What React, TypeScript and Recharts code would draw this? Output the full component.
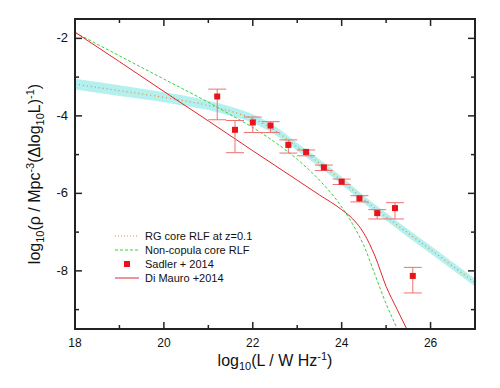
import React from 'react';
import {
  ComposedChart,
  Line,
  Area,
  Scatter,
  ErrorBar,
  XAxis,
  YAxis,
  Legend,
  ReferenceArea,
  CartesianGrid,
} from 'recharts';

const FONT = '"Liberation Sans", Arial, Helvetica, sans-serif';
const FRAME = '#222';
const W = 500;
const H = 388;
const MARGIN = { top: 19, right: 25, left: 0, bottom: 0 };
const Y_AXIS_W = 75;
const X_AXIS_H = 59;

// Sadler + 2014 measurements
const sadlerL = [21.2, 21.6, 22.0, 22.4, 22.8, 23.2, 23.6, 24.0, 24.4, 24.8, 25.2, 25.6];
const sadlerRho = [-3.5, -4.36, -4.17, -4.25, -4.75, -4.93, -5.33, -5.7, -6.13, -6.51, -6.38, -8.13];
const sadlerErrLo = [0.6, 0.59, 0.26, 0.18, 0.21, 0.1, 0.08, 0.07, 0.09, 0.15, 0.28, 0.44];
const sadlerErrHi = [0.19, 0.24, 0.14, 0.1, 0.13, 0.05, 0.06, 0.07, 0.07, 0.09, 0.14, 0.22];

// RG core RLF at z=0.1 (dotted) and its uncertainty band
const rgL = [18, 19, 20, 20.5, 21, 21.5, 22, 22.5, 23, 23.5, 24, 24.5, 25, 25.5, 26, 26.5, 27];
const rgRho = [-3.18, -3.35, -3.52, -3.62, -3.73, -3.88, -4.07, -4.38, -4.8, -5.22, -5.67, -6.16, -6.6, -7.03, -7.45, -7.88, -8.3];
const rgHi = [-3.04, -3.21, -3.39, -3.49, -3.61, -3.76, -3.96, -4.27, -4.7, -5.12, -5.57, -6.06, -6.5, -6.93, -7.35, -7.78, -8.2];
const rgLo = [-3.32, -3.49, -3.65, -3.75, -3.85, -4.0, -4.18, -4.49, -4.9, -5.32, -5.77, -6.26, -6.7, -7.13, -7.55, -7.98, -8.4];

// Non-copula core RLF
const ncL = [18, 19, 20, 21, 21.5, 22, 22.5, 23, 23.5, 24, 24.25, 24.5, 24.75, 25, 25.25, 25.5];
const ncRho = [-1.85, -2.45, -3.05, -3.65, -3.97, -4.3, -4.68, -5.12, -5.66, -6.35, -6.8, -7.35, -8.1, -8.85, -9.5, -10.2];

// Di Mauro +2014
const dmL = [18, 19, 20, 21, 22, 23, 23.5, 24, 24.25, 24.5, 24.75, 25, 25.25, 25.5];
const dmRho = [-1.84, -2.6, -3.37, -4.13, -4.9, -5.66, -6.04, -6.42, -6.66, -7.03, -7.62, -8.4, -9.0, -9.58];

const xDomain = [18, 27];
const yDomain = [-9.5, -1.5];
const xTicks = [18, 19, 20, 21, 22, 23, 24, 25, 26, 27];
const xLabels = [18, 20, 22, 24, 26];
const yTicks = [-9, -8, -7, -6, -5, -4, -3, -2];
const yLabels = [-8, -6, -4, -2];

const legendNames = ['RG core RLF at z=0.1', 'Non-copula core RLF', 'Sadler + 2014', 'Di Mauro +2014'];

const sadlerData = sadlerL.map((x, i) => ({ x, y: sadlerRho[i], err: [sadlerErrLo[i], sadlerErrHi[i]] }));
const rgData = rgL.map((x, i) => ({ x, y: rgRho[i], band: [rgLo[i], rgHi[i]] }));
const ncData = ncL.map((x, i) => ({ x, y: ncRho[i] }));
const dmData = dmL.map((x, i) => ({ x, y: dmRho[i] }));

// plot box, for the mirrored top / right ticks and the frame
const PLOT_LEFT = MARGIN.left + Y_AXIS_W;
const PLOT_TOP = MARGIN.top;
const PLOT_RIGHT = W - MARGIN.right;
const PLOT_BOTTOM = H - MARGIN.bottom - X_AXIS_H;

const BottomTick = (props: any) => {
  const { x, y, payload } = props;
  const len = xLabels.includes(payload.value) ? 7 : 4;
  return (
    <g>
      <line x1={x} y1={y} x2={x} y2={y - len} stroke={FRAME} strokeWidth={1.5} />
      <line x1={x} y1={PLOT_TOP} x2={x} y2={PLOT_TOP + len} stroke={FRAME} strokeWidth={1.5} />
      {len === 7 && (
        <text x={x} y={y + 18} textAnchor="middle" fontSize={12} fill="#111" fontFamily={FONT}>
          {payload.value}
        </text>
      )}
    </g>
  );
};

const LeftTick = (props: any) => {
  const { x, y, payload } = props;
  const len = yLabels.includes(payload.value) ? 7 : 4;
  return (
    <g>
      <line x1={x} y1={y} x2={x + len} y2={y} stroke={FRAME} strokeWidth={1.5} />
      <line x1={PLOT_RIGHT} y1={y} x2={PLOT_RIGHT - len} y2={y} stroke={FRAME} strokeWidth={1.5} />
      {len === 7 && (
        <text x={x - 7} y={y + 4} textAnchor="end" fontSize={13} fill="#111" fontFamily={FONT}>
          {payload.value}
        </text>
      )}
    </g>
  );
};

const XTitle = (props: any) => {
  const vb = props.viewBox || { x: PLOT_LEFT, y: PLOT_BOTTOM, width: PLOT_RIGHT - PLOT_LEFT };
  const cx = vb.x + vb.width / 2;
  return (
    <text x={cx} y={vb.y + 37} textAnchor="middle" fontSize={16} fill="#111" fontFamily={FONT}>
      log<tspan fontSize={11} dy={4}>10</tspan>
      <tspan dy={-4}>(L / W Hz</tspan>
      <tspan fontSize={11} dy={-6}>-1</tspan>
      <tspan dy={6}>)</tspan>
    </text>
  );
};

const YTitle = (props: any) => {
  const vb = props.viewBox || { x: 0, y: PLOT_TOP, width: Y_AXIS_W, height: PLOT_BOTTOM - PLOT_TOP };
  const tx = vb.x + 40;
  const ty = vb.y + vb.height / 2;
  return (
    <text
      x={tx}
      y={ty}
      transform={`rotate(-90, ${tx}, ${ty})`}
      textAnchor="middle"
      fontSize={16}
      fill="#111"
      fontFamily={FONT}
    >
      log<tspan fontSize={11} dy={4}>10</tspan>
      <tspan dy={-4}>(ρ / Mpc</tspan>
      <tspan fontSize={11} dy={-6}>-3</tspan>
      <tspan dy={6}>(Δlog</tspan>
      <tspan fontSize={11} dy={4}>10</tspan>
      <tspan dy={-4}>L)</tspan>
      <tspan fontSize={11} dy={-6}>-1</tspan>
      <tspan dy={6}>)</tspan>
    </text>
  );
};

const legendSample = (i: number) => {
  if (i === 0) return <line x1={0} y1={7} x2={24} y2={7} stroke="#d9952e" strokeDasharray="1 2" />;
  if (i === 1) return <line x1={0} y1={7} x2={24} y2={7} stroke="#3ccf3c" strokeDasharray="3 2" />;
  if (i === 2) return <rect x={9} y={4} width={6} height={6} fill="#e8141c" />;
  return <line x1={0} y1={7} x2={24} y2={7} stroke="#e0282a" />;
};

const LegendBox = () => (
  <div style={{ fontFamily: FONT, fontSize: 11, color: '#111' }}>
    {legendNames.map((name, i) => (
      <div key={name} style={{ display: 'flex', alignItems: 'center', height: 14 }}>
        <svg width={30} height={14}>{legendSample(i)}</svg>
        <span>{name}</span>
      </div>
    ))}
  </div>
);

const App: React.FC = () => (
  <div style={{ position: 'absolute', left: 0, top: 0, width: W, height: H, background: '#fff' }}>
    <ComposedChart width={W} height={H} margin={MARGIN}>
      <CartesianGrid
        stroke={FRAME}
        strokeWidth={1.5}
        horizontalCoordinatesGenerator={(p: any) => [p.offset.top, p.offset.top + p.offset.height]}
        verticalCoordinatesGenerator={(p: any) => [p.offset.left, p.offset.left + p.offset.width]}
      />
      <XAxis
        dataKey="x"
        type="number"
        domain={xDomain}
        allowDataOverflow
        ticks={xTicks}
        interval={0}
        height={X_AXIS_H}
        tickSize={0}
        tickMargin={0}
        tickLine={false}
        tick={<BottomTick />}
        axisLine={{ stroke: FRAME }}
        label={<XTitle />}
      />
      <YAxis
        type="number"
        domain={yDomain}
        allowDataOverflow
        ticks={yTicks}
        interval={0}
        width={Y_AXIS_W}
        tickSize={0}
        tickMargin={0}
        tickLine={false}
        tick={<LeftTick />}
        axisLine={{ stroke: FRAME }}
        label={<YTitle />}
      />
      <Area
        data={rgData}
        dataKey="band"
        type="monotone"
        stroke="none"
        fill="#b4f0f0"
        fillOpacity={1}
        isAnimationActive={false}
        activeDot={false}
      />
      <Line
        data={rgData}
        dataKey="y"
        type="monotone"
        stroke="#d9952e"
        strokeWidth={1.2}
        strokeDasharray="1 3"
        dot={false}
        activeDot={false}
        isAnimationActive={false}
      />
      <Line
        data={ncData}
        dataKey="y"
        type="monotone"
        stroke="#3ccf3c"
        strokeWidth={1}
        strokeDasharray="3 2"
        dot={false}
        activeDot={false}
        isAnimationActive={false}
      />
      <Line
        data={dmData}
        dataKey="y"
        type="monotone"
        stroke="#e0282a"
        strokeWidth={1}
        dot={false}
        activeDot={false}
        isAnimationActive={false}
      />
      <Scatter
        data={sadlerData}
        dataKey="y"
        isAnimationActive={false}
        shape={(p: any) => <rect x={p.cx - 3} y={p.cy - 3} width={6} height={6} fill="#e8141c" />}
      >
        <ErrorBar dataKey="err" direction="y" width={9} stroke="#ee7070" strokeWidth={1} />
      </Scatter>
      {/* plot frame */}
      <ReferenceArea
        x1={xDomain[0]}
        x2={xDomain[1]}
        y1={yDomain[0]}
        y2={yDomain[1]}
        fill="none"
        stroke={FRAME}
        strokeWidth={1.5}
        ifOverflow="visible"
      />
      <Legend
        layout="vertical"
        align="center"
        verticalAlign="middle"
        content={<LegendBox />}
        wrapperStyle={{ left: 115, top: 229, width: 200 }}
      />
    </ComposedChart>
    {/* frame overlay, in case the svg frame is covered */}
    <div
      style={{
        position: 'absolute',
        left: PLOT_LEFT - 1,
        top: PLOT_TOP - 1,
        width: PLOT_RIGHT - PLOT_LEFT + 2,
        height: PLOT_BOTTOM - PLOT_TOP + 2,
        border: `2px solid ${FRAME}`,
        boxSizing: 'border-box',
        pointerEvents: 'none',
      }}
    />
  </div>
);

export default App;
